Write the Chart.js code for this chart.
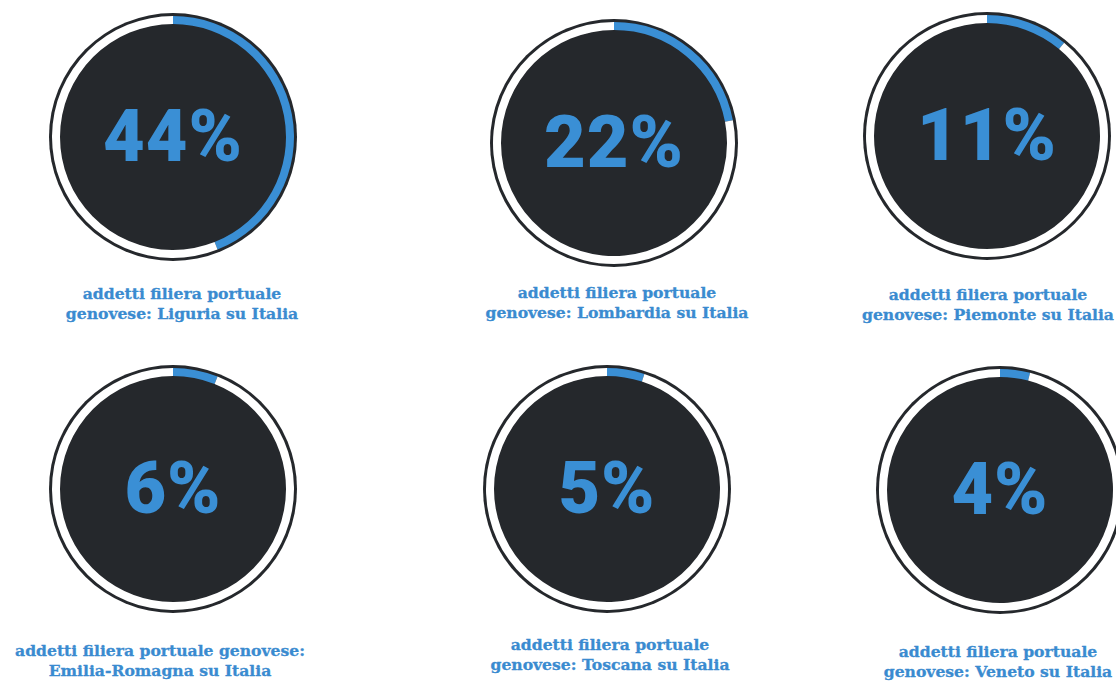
<!DOCTYPE html>
<html>
<head>
<meta charset="utf-8">
<script src="https://cdn.jsdelivr.net/npm/chart.js@4.4.1/dist/chart.umd.min.js"></script>
<style>
  html, body { margin: 0; padding: 0; background: #ffffff; }
  body { width: 1116px; height: 682px; position: relative; overflow: hidden; }
  .box { position: absolute; width: 260px; height: 260px; }
  .box canvas { position: absolute; left: 0; top: 0; }
  .pct {
    position: absolute; left: 0; top: 0; width: 260px; height: 260px;
    display: flex; align-items: center; justify-content: center;
    font-family: Roboto, sans-serif; font-weight: 900; font-size: 72px;
    line-height: 1; color: #3a8fd5; letter-spacing: 1px;
  }
  .lbl {
    position: absolute; width: 360px; text-align: center;
    font-family: "DejaVu Serif", serif; font-weight: bold; font-size: 15.6px;
    line-height: 20px; color: #3a8bd0; white-space: nowrap;
    -webkit-text-stroke: 0.3px #3a8bd0;
  }
</style>
</head>
<body>
<script>
// Dati: quota addetti filiera portuale genovese per regione
const regions = ['Liguria', 'Lombardia', 'Piemonte', 'Emilia-Romagna', 'Toscana', 'Veneto'];
const shares = [44, 22, 11, 6, 5, 4];
const labelLines = [
    ['addetti filiera portuale', 'genovese: Liguria su Italia'],
    ['addetti filiera portuale', 'genovese: Lombardia su Italia'],
    ['addetti filiera portuale', 'genovese: Piemonte su Italia'],
    ['addetti filiera portuale genovese:', 'Emilia-Romagna su Italia'],
    ['addetti filiera portuale', 'genovese: Toscana su Italia'],
    ['addetti filiera portuale', 'genovese: Veneto su Italia']
];

// Posizioni (centro cerchio e centro etichetta)
const layout = [
    { cx: 173, cy: 137, lx: 182, ly: 284 },
    { cx: 614, cy: 143, lx: 617, ly: 283 },
    { cx: 987, cy: 136, lx: 988, ly: 285 },
    { cx: 173, cy: 489, lx: 160, ly: 641 },
    { cx: 607, cy: 489, lx: 610, ly: 635 },
    { cx: 1000, cy: 490, lx: 998, ly: 642 }
];

const BLUE = '#3a8fd5';
const DARK = '#25282c';

// Cerchio scuro sotto l'anello
const darkDisc = {
    id: 'darkDisc',
    beforeDatasetsDraw(chart) {
        const arc = chart.getDatasetMeta(0).data[0];
        if (!arc) return;
        const ctx = chart.ctx;
        ctx.save();
        ctx.beginPath();
        ctx.arc(arc.x, arc.y, arc.outerRadius + 3, 0, Math.PI * 2);
        ctx.fillStyle = DARK;
        ctx.fill();
        ctx.restore();
    }
};

regions.forEach((region, i) => {
    const pos = layout[i];

    let box = document.createElement('div');
    box.className = 'box';
    box.style.left = (pos.cx - 130) + 'px';
    box.style.top = (pos.cy - 130) + 'px';

    let canvas = document.createElement('canvas');
    canvas.width = 260;
    canvas.height = 260;
    box.appendChild(canvas);

    let pct = document.createElement('div');
    pct.className = 'pct';
    pct.textContent = shares[i] + '%';
    box.appendChild(pct);
    document.body.appendChild(box);

    let lbl = document.createElement('div');
    lbl.className = 'lbl';
    lbl.style.left = (pos.lx - 180) + 'px';
    lbl.style.top = pos.ly + 'px';
    lbl.innerHTML = labelLines[i].join('<br>');
    document.body.appendChild(lbl);

    new Chart(canvas.getContext('2d'), {
        type: 'doughnut',
        data: {
            labels: [region, 'Resto'],
            datasets: [{
                data: [shares[i], 100 - shares[i]],
                backgroundColor: [BLUE, '#ffffff'],
                borderWidth: 0
            }]
        },
        options: {
            responsive: false,
            animation: false,
            cutout: 113,
            layout: { padding: 9 },
            plugins: {
                legend: { display: false },
                tooltip: { enabled: false }
            }
        },
        plugins: [darkDisc]
    });
});
</script>
</body>
</html>
